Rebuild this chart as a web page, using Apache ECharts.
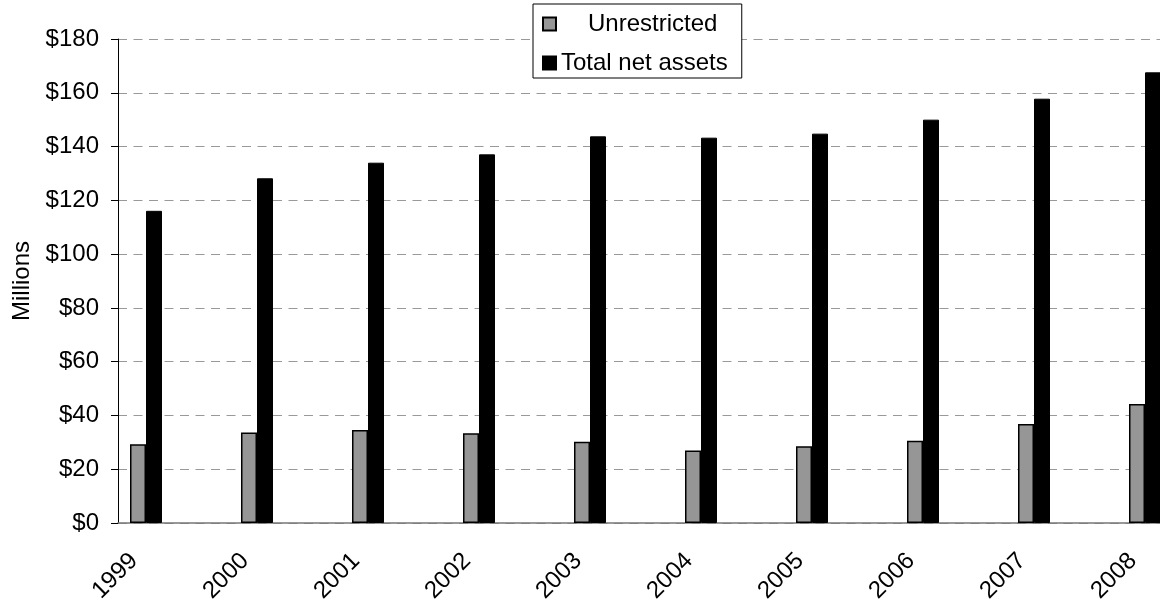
<!DOCTYPE html>
<html>
<head>
<meta charset="utf-8">
<script src="https://cdn.jsdelivr.net/npm/echarts@6/dist/echarts.min.js"></script>
<style>
  html, body { margin: 0; padding: 0; background: #fff; }
  #chart { width: 1160px; height: 601px; }
</style>
</head>
<body>
<div id="chart"></div>
<script>
// Net assets by fiscal year, in millions of dollars
const years = ['1999', '2000', '2001', '2002', '2003', '2004', '2005', '2006', '2007', '2008'];
const unrestricted = [29.3, 33.7, 34.6, 33.4, 30.2, 27.0, 28.5, 30.6, 36.8, 44.3];
const totalNetAssets = [116.1, 128.2, 134.0, 137.1, 143.8, 143.3, 144.8, 150.0, 157.8, 167.6];
const yTicks = { min: 0, max: 180, step: 20 };

const FONT = '"Liberation Sans", Arial, sans-serif';
const FS = 24;
const chart = echarts.init(document.getElementById('chart'), null, { renderer: 'canvas' });

chart.setOption({
  backgroundColor: '#fff',
  animation: false,
  textStyle: { fontFamily: FONT },
  legend: {
    left: 533,
    top: 4,
    orient: 'vertical',
    backgroundColor: '#fff',
    borderColor: '#000',
    borderWidth: 1,
    borderRadius: 0,
    padding: [8, 14, 3, 9],
    itemGap: 15,
    itemWidth: 13,
    itemHeight: 13,
    itemTextGap: 7,
    icon: 'rect',
    textStyle: {
      fontFamily: FONT, fontSize: FS, color: '#000',
      rich: { pad: { fontFamily: FONT, fontSize: FS, color: '#000', padding: [0, 0, 0, 27] } }
    },
    formatter: function (name) {
      return name === 'Unrestricted' ? '{pad|' + name + '}' : name;
    },
    data: ['Unrestricted', 'Total net assets']
  },
  grid: [
    // band grid holding the bars and year labels
    { left: 90.5, width: 1110, top: 39, bottom: 78, containLabel: false, outerBoundsMode: 'none' },
    // value grid with the visible axis lines, ticks and dashed guides
    { left: 118, right: 0, top: 39, bottom: 78, containLabel: false, outerBoundsMode: 'none' }
  ],
  xAxis: [
    {
      type: 'category', gridIndex: 0, data: years,
      axisLine: { show: false }, axisTick: { show: false },
      axisLabel: {
        rotate: 45, fontSize: FS, color: '#000', fontFamily: FONT,
        margin: 22, padding: [0, 17, 0, 0], interval: 0
      }
    },
    {
      type: 'value', gridIndex: 1, min: 0, max: 1,
      axisLine: { show: true, lineStyle: { color: '#777', width: 1.5 } },
      axisTick: { show: false }, axisLabel: { show: false }, splitLine: { show: false }
    }
  ],
  yAxis: [
    { type: 'value', gridIndex: 0, min: yTicks.min, max: yTicks.max, interval: yTicks.step, show: false },
    {
      type: 'value', gridIndex: 1, min: yTicks.min, max: yTicks.max, interval: yTicks.step,
      name: 'Millions', nameLocation: 'middle', nameGap: 80,
      nameTextStyle: { fontSize: FS, color: '#000', fontFamily: FONT },
      axisLine: { show: true, lineStyle: { color: '#000', width: 1 } },
      axisTick: { show: true, length: 7, lineStyle: { color: '#000', width: 1 } },
      axisLabel: { fontSize: FS, color: '#000', fontFamily: FONT, margin: 19, formatter: '${value}' },
      splitLine: { show: true, lineStyle: { color: '#999', width: 1, type: [9, 6.5] } }
    }
  ],
  series: [
    {
      name: 'Unrestricted', type: 'bar', xAxisIndex: 0, yAxisIndex: 0,
      data: unrestricted, barWidth: 16, barGap: '0%',
      itemStyle: { color: '#969696', borderColor: '#000', borderWidth: 1.5 }
    },
    {
      name: 'Total net assets', type: 'bar', xAxisIndex: 0, yAxisIndex: 0,
      data: totalNetAssets, barWidth: 16, barGap: '0%',
      itemStyle: { color: '#000', borderColor: '#000', borderWidth: 1 }
    }
  ]
});
</script>
</body>
</html>
